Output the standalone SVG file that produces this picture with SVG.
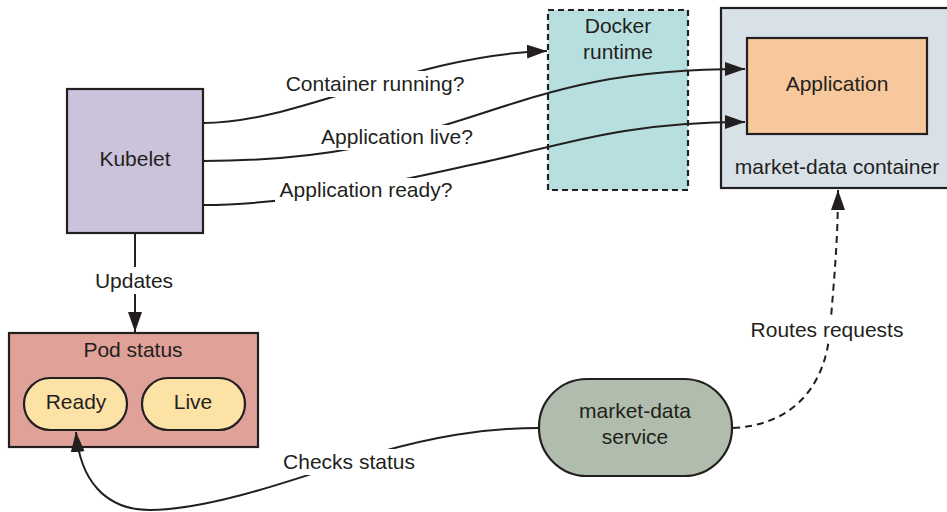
<svg xmlns="http://www.w3.org/2000/svg" width="947" height="512" viewBox="0 0 947 512">
<style>
text{font-family:"Liberation Sans",Arial,sans-serif;font-size:21px;fill:#231f20;text-anchor:middle}
.box{stroke:#231f20;stroke-width:2.2}
.conn{fill:none;stroke:#231f20;stroke-width:2}
.dash{stroke-dasharray:7 5}
.lbl{fill:#ffffff}
</style>
<defs>
<marker id="arr" viewBox="0 0 20 14" refX="20" refY="7" markerWidth="20" markerHeight="14" markerUnits="userSpaceOnUse" orient="auto">
<path d="M0,0 L20,7 L0,14 z" fill="#231f20"/>
</marker>
</defs>
<rect width="947" height="512" fill="#ffffff"/>
<g id="docker">
<rect x="548" y="10" width="140" height="180" fill="#b8dfdf" class="box" stroke-dasharray="6 4"/>
<text x="618" y="33">Docker</text>
<text x="618" y="59">runtime</text>
</g>
<g id="container">
<rect x="721" y="8" width="228" height="180" fill="#d8e0e8" class="box"/>
<text x="837" y="174">market-data container</text>
</g>
<g id="application">
<rect x="747" y="38" width="180" height="96" fill="#f6c89c" class="box"/>
<text x="837" y="91">Application</text>
</g>
<g id="kubelet">
<rect x="67" y="89" width="136" height="144" fill="#cbc3db" class="box"/>
<text x="135" y="166">Kubelet</text>
</g>
<g id="podstatus">
<rect x="9" y="333" width="249" height="114" fill="#e0a298" class="box"/>
<text x="133" y="357">Pod status</text>
</g>
<g id="ready">
<rect x="24" y="378" width="103" height="52" rx="26" fill="#fde2a6" class="box"/>
<text x="76" y="409">Ready</text>
</g>
<g id="live">
<rect x="142" y="378" width="103" height="52" rx="26" fill="#fde2a6" class="box"/>
<text x="193" y="409">Live</text>
</g>
<g id="service">
<rect x="539" y="379" width="193" height="97" rx="48" fill="#b0bdac" class="box"/>
<text x="635" y="418">market-data</text>
<text x="635" y="444">service</text>
</g>
<g id="connectors">
<path class="conn" d="M203,123 C300,123 410,55 547,51" marker-end="url(#arr)"/>
<path class="conn" d="M203,161 C330,161 400,140 480,114 C560,88 620,69 745,69" marker-end="url(#arr)"/>
<path class="conn" d="M203,205 C300,205 400,180 480,163 C560,146 620,122 745,122" marker-end="url(#arr)"/>
<path class="conn" d="M135,233 L135,332" marker-end="url(#arr)"/>
<path class="conn" d="M539,428 C480,428 430,438 380,452 C330,466 220,510 150,510 C105,510 80,480 76,432" marker-end="url(#arr)"/>
<path class="conn dash" d="M733,428 C790,425 825,390 830,330 C834,280 838,240 838,190" marker-end="url(#arr)"/>
<rect class="lbl" x="282" y="71" width="188" height="26"/>
<text x="375" y="91">Container running?</text>
<rect class="lbl" x="317" y="125" width="161" height="25"/>
<text x="397" y="144">Application live?</text>
<rect class="lbl" x="275" y="178" width="182" height="25"/>
<text x="366" y="197">Application ready?</text>
<rect class="lbl" x="92" y="267" width="86" height="27"/>
<text x="134" y="288">Updates</text>
<rect class="lbl" x="279" y="449" width="140" height="26"/>
<text x="349" y="469">Checks status</text>
<rect class="lbl" x="746" y="317" width="162" height="26"/>
<text x="827" y="337">Routes requests</text>
</g>
</svg>
